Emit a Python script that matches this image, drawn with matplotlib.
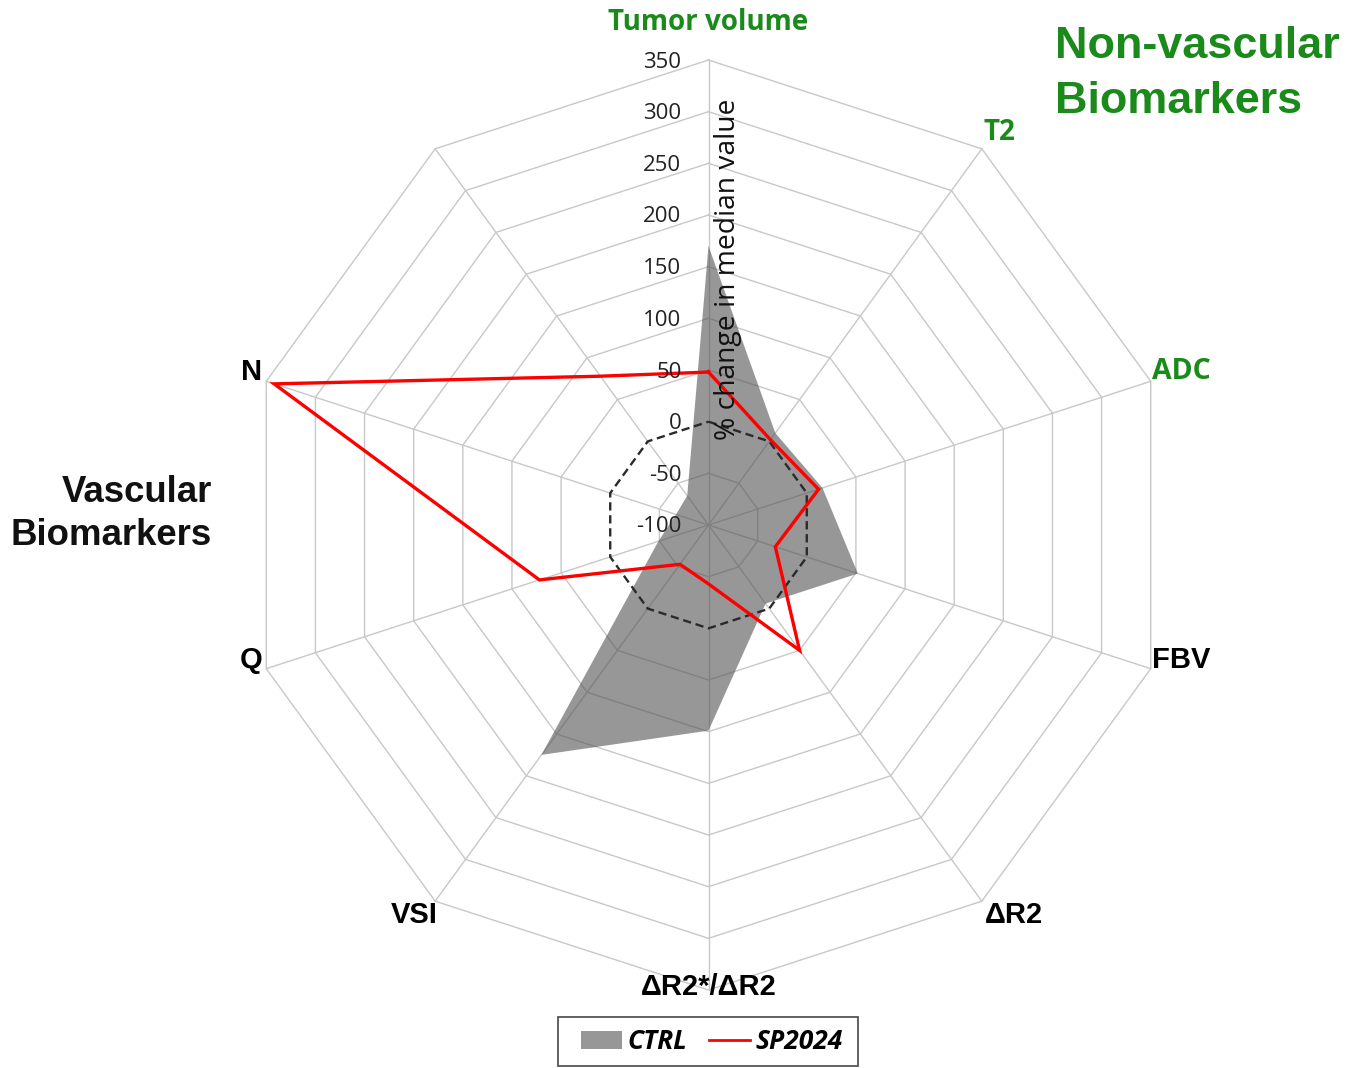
import numpy as np
import matplotlib
matplotlib.use('Agg')
import matplotlib.pyplot as plt
from matplotlib.patches import Patch, Rectangle
from matplotlib.lines import Line2D

# ---------------- data ----------------
categories = ['Tumor volume', 'T2', 'ADC', 'FBV', 'ΔR2', 'ΔR2*/ΔR2', 'VSI', 'Q', 'N', '']
ctrl = [170, 10, 16, 52, -6, 99, 175, -49, -67, -65]
sp2024 = [48, 2, 12, -32, 50, -43, -53, 72, 342, 78]
zero_ref = [0, 0, 0, 0, 0, 0, 0, 0, 0, 0]
r_ticks = [-100, -50, 0, 50, 100, 150, 200, 250, 300, 350]
series_names = ['CTRL', 'SP2024']

# ---------------- style ----------------
GREEN = '#1a8a1a'
GRID = '#c8c8c8'
label_style = {
    'Tumor volume': dict(color=GREEN, family='Open Sans', size=20, ha='center', va='center', off=(0, 38)),
    'T2': dict(color=GREEN, family='Open Sans', size=20, ha='center', va='center', off=(18, 16)),
    'ADC': dict(color=GREEN, family='Open Sans', size=20.5, ha='left', va='center', off=(1, 10)),
    'FBV': dict(color='black', family='Liberation Sans', size=21, ha='left', va='center', off=(1, 9)),
    'ΔR2': dict(color='black', family='Liberation Sans', size=21, ha='left', va='center', off=(3, -14)),
    'ΔR2*/ΔR2': dict(color='black', family='Liberation Sans', size=21, ha='center', va='center', off=(0, 3)),
    'VSI': dict(color='black', family='Liberation Sans', size=21, ha='right', va='center', off=(2, -14)),
    'Q': dict(color='black', family='Liberation Sans', size=21, ha='right', va='center', off=(-4, 9)),
    'N': dict(color='black', family='Liberation Sans', size=21, ha='right', va='center', off=(-4, 9)),
}

W, H = 1364, 1068
fig = plt.figure(figsize=(W / 100, H / 100), dpi=100)
cx, cy, R = 708.5, 525.0, 465.0
ax = fig.add_axes([(cx - R) / W, (H - cy - R) / H, 2 * R / W, 2 * R / H], projection='polar')
ax.set_theta_zero_location('N')
ax.set_theta_direction(-1)
ax.set_ylim(r_ticks[0], r_ticks[-1])
ax.set_xticks([])
ax.set_yticks([])
ax.grid(False)
ax.spines['polar'].set_visible(False)
ax.patch.set_visible(False)

n = len(categories)
theta = np.linspace(0, 2 * np.pi, n, endpoint=False)
theta_c = np.append(theta, theta[0])

def closed(v):
    return np.append(np.asarray(v, float), v[0])

# polygon grid rings
for lvl in r_ticks[1:]:
    if lvl == 0:
        continue
    ax.plot(theta_c, [lvl] * (n + 1), color=GRID, lw=1.0, zorder=1, clip_on=False)
# spokes
for t in theta:
    ax.plot([t, t], [r_ticks[0], r_ticks[-1]], color=GRID, lw=1.0, zorder=1, clip_on=False)

# CTRL filled area
ax.fill(theta_c, closed(ctrl), color='#4d4d4d', alpha=0.58, lw=0, zorder=2)
# zero reference (dashed)
ax.plot(theta_c, closed(zero_ref), color='#2a2a2a', lw=1.7, ls=(0, (3.5, 2)), zorder=3, clip_on=False)
# SP2024 line
ax.plot(theta_c, closed(sp2024), color='#ff0000', lw=2.4, zorder=4, clip_on=False, solid_joinstyle='miter')

# radial tick labels
for lvl in r_ticks:
    ax.annotate(str(lvl), xy=(0, lvl), xytext=(-27, -2), textcoords='offset pixels',
                ha='right', va='center', fontsize=16, family='Open Sans', color='#222222',
                annotation_clip=False, zorder=5)

# category labels
for t, cat in zip(theta, categories):
    if not cat:
        continue
    st = label_style[cat]
    ax.annotate(cat, xy=(t, r_ticks[-1]), xytext=st['off'], textcoords='offset pixels',
                ha=st['ha'], va=st['va'], fontsize=st['size'], family=st['family'],
                fontweight='bold', color=st['color'], annotation_clip=False, zorder=6)

# axis title
fig.text(728 / W, 1 - 269 / H, '% change in median value', rotation=90, ha='center', va='center',
         fontsize=20.3, family='Open Sans', color='#111111')

# group titles
fig.text(1055 / W, 1 - 58 / H, 'Non-vascular', ha='left', va='baseline', fontsize=32.4,
         family='Liberation Sans', fontweight='bold', color=GREEN)
fig.text(1055 / W, 1 - 113 / H, 'Biomarkers', ha='left', va='baseline', fontsize=32.4,
         family='Liberation Sans', fontweight='bold', color=GREEN)
fig.text(212 / W, 1 - 502 / H, 'Vascular', ha='right', va='baseline', fontsize=26.4,
         family='Liberation Sans', fontweight='bold', color='#111111')
fig.text(212 / W, 1 - 545 / H, 'Biomarkers', ha='right', va='baseline', fontsize=26.4,
         family='Liberation Sans', fontweight='bold', color='#111111')

# legend
fig.patches.append(Rectangle((558 / W, 1 - 1066 / H), 300 / W, 49 / H, transform=fig.transFigure,
                             facecolor='white', edgecolor='#555555', lw=1.3, zorder=0))
handles = [Patch(facecolor='#4d4d4d', alpha=0.58, edgecolor='none'),
           Line2D([0], [0], color='#ff0000', lw=2.0)]
leg = fig.legend(handles, series_names, loc='center', bbox_to_anchor=(712 / W, 1 - 1041.5 / H),
                 ncol=2, frameon=False, handlelength=1.55, handletextpad=0.2, columnspacing=0.85,
                 borderpad=0.2, prop=dict(family='Open Sans', weight='bold', style='italic', size=19))

fig.savefig('out.png', dpi=100, facecolor='white')
